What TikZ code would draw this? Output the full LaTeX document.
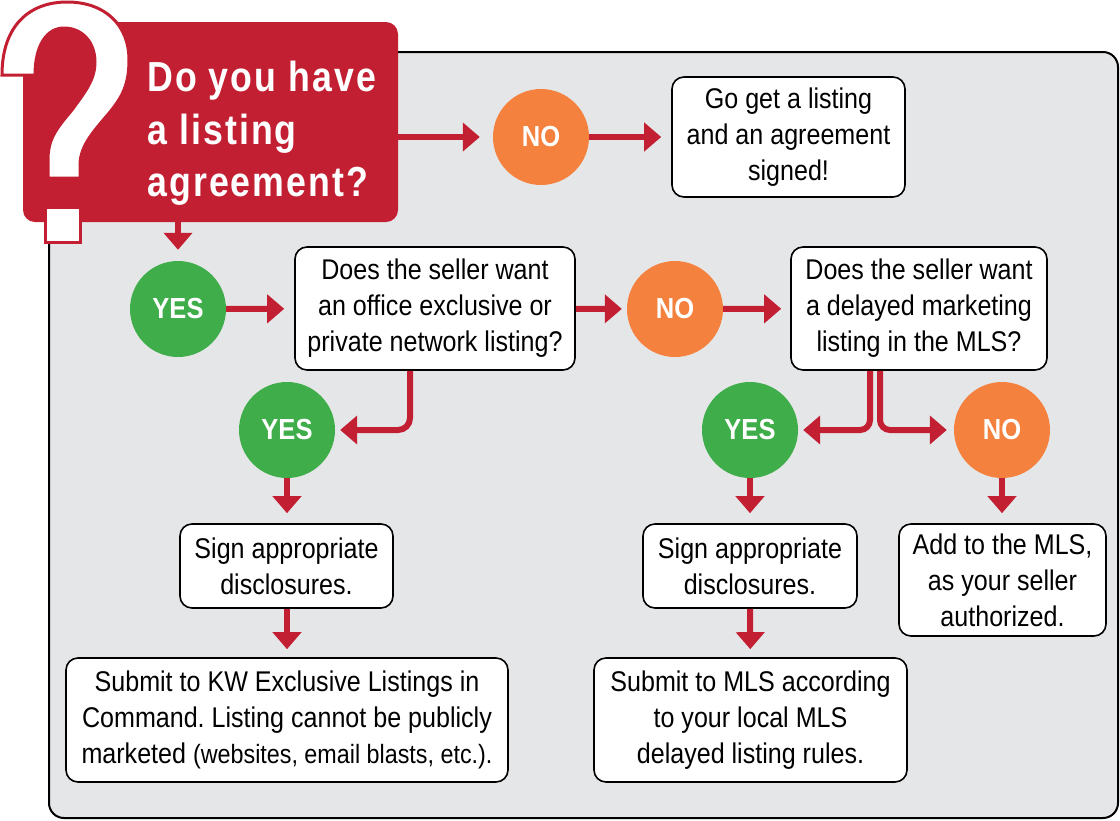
\documentclass[tikz,border=0pt]{standalone}
\usepackage{fontspec}
\setmainfont{Liberation Sans}[FakeStretch=0.88]
\newfontfamily\hdrfont{Liberation Sans}[FakeStretch=0.85,LetterSpace=5]
\usetikzlibrary{arrows.meta}
\definecolor{qred}{HTML}{C21F32}
\definecolor{qgreen}{HTML}{3EAD4A}
\definecolor{qorange}{HTML}{F5813F}
\definecolor{qgray}{HTML}{E5E6E8}
\frenchspacing
\begin{document}
\begin{tikzpicture}[x=1pt,y=-1pt,
  circ/.style={circle, minimum size=96pt, inner sep=0pt, text=white,
    font=\bfseries\fontsize{29}{29}\selectfont},
  yesc/.style={circ, fill=qgreen},
  noc/.style={circ, fill=qorange},
  box/.style={draw=black, line width=1.6pt, fill=white, rounded corners=12pt,
    align=center, inner sep=0pt, font=\fontsize{28.5}{36}\selectfont},
  arr/.style={draw=qred, line width=6pt, -{Triangle[width=28pt,length=17pt]},
    shorten >=10pt}
]
\useasboundingbox (0,0) rectangle (1120,820);
% panel
\path[draw=black, line width=2pt, fill=qgray, rounded corners=15pt]
  (49,52) rectangle (1118,818);
% red question box
\node[fill=qred, rounded corners=12pt, minimum width=375pt, minimum height=200pt,
  inner sep=0pt] (qbox) at (210.5,122) {};
% question mark
\path[fill=white, draw=qred, line width=3pt, line join=miter]
  (2,75) -- (35,75)
  .. controls (35,45) and (47,28) .. (64,28)
  .. controls (82,28) and (95,42) .. (95,62)
  .. controls (95,80) and (85,92) .. (72,110)
  .. controls (55,130) and (48,140) .. (48,160)
  -- (48,178) -- (80,178) -- (80,165)
  .. controls (80,145) and (95,130) .. (110,112)
  .. controls (122,97) and (129,85) .. (129,60)
  .. controls (129,25) and (105,2) .. (67,2)
  .. controls (30,2) and (2,25) .. (2,75) -- cycle;
\path[fill=white, draw=qred, line width=3pt] (45,207) rectangle (80,242);
\node[anchor=west, inner sep=0pt, align=left, text=white,
  font=\hdrfont\bfseries\fontsize{42}{52.5}\selectfont] (qtext) at (147,133.6)
  {Do you have\\a listing\\agreement?};
% circles
\node[noc] (no1) at (541,137) {NO};
\node[yesc] (yes1) at (178,309) {YES};
\node[noc] (no2) at (675,309) {NO};
\node[yesc] (yes2) at (287,430) {YES};
\node[yesc] (yes3) at (750,430) {YES};
\node[noc] (no3) at (1002,430) {NO};
% boxes
\node[box, minimum width=233pt, minimum height=120pt] (go) at (788.5,137)
  {Go get a listing\\and an agreement\\signed!};
\node[box, minimum width=280pt, minimum height=123pt] (q1) at (435,308.5)
  {Does the seller want\\an office exclusive or\\private network listing?};
\node[box, minimum width=256pt, minimum height=123pt] (q2) at (919,308.5)
  {Does the seller want\\a delayed marketing\\listing in the MLS?};
\node[box, minimum width=213pt, minimum height=84pt] (sign1) at (286.5,566)
  {Sign appropriate\\disclosures.};
\node[box, minimum width=442pt, minimum height=124pt] (sub1) at (287,720)
  {Submit to KW Exclusive Listings in\\Command. Listing cannot be publicly\\marketed {\fontsize{26.5}{36}\selectfont(websites, email blasts, etc.).}};
\node[box, minimum width=214pt, minimum height=84pt] (sign2) at (750,566)
  {Sign appropriate\\disclosures.};
\node[box, minimum width=207pt, minimum height=112pt] (add) at (1002.5,580)
  {Add to the MLS,\\as your seller\\authorized.};
\node[box, minimum width=313pt, minimum height=124pt] (sub2) at (750.5,720)
  {Submit to MLS according\\to your local MLS\\delayed listing rules.};
% connectors
\draw[arr, shorten >=13pt] (qbox.east |- no1) -- (no1);
\draw[arr] (no1) -- (go);
\draw[arr, shorten >=11pt] (qbox.south -| yes1) -- (yes1);
\draw[arr] (yes1) -- (q1);
\draw[arr, shorten >=5pt] (q1) -- (no2);
\draw[arr, shorten >=9pt] (no2) -- (q2);
\draw[arr, shorten >=5pt, rounded corners=12pt] ([xshift=-25pt]q1.south) |- (yes2);
\draw[arr] (yes2.south) -- (sign1.north -| yes2);
\draw[arr, shorten >=8pt] (sign1.south -| yes2) -- (sub1.north -| yes2);
\draw[arr, shorten >=5pt, rounded corners=10pt] ([xshift=-49pt]q2.south) |- (yes3);
\draw[arr, shorten >=7pt, rounded corners=10pt] ([xshift=-39pt]q2.south) |- (no3);
\draw[arr] (yes3) -- (sign2);
\draw[arr] (no3.south) -- (add.north -| no3);
\draw[arr, shorten >=8pt] (sign2) -- (sub2);
\end{tikzpicture}
\end{document}
